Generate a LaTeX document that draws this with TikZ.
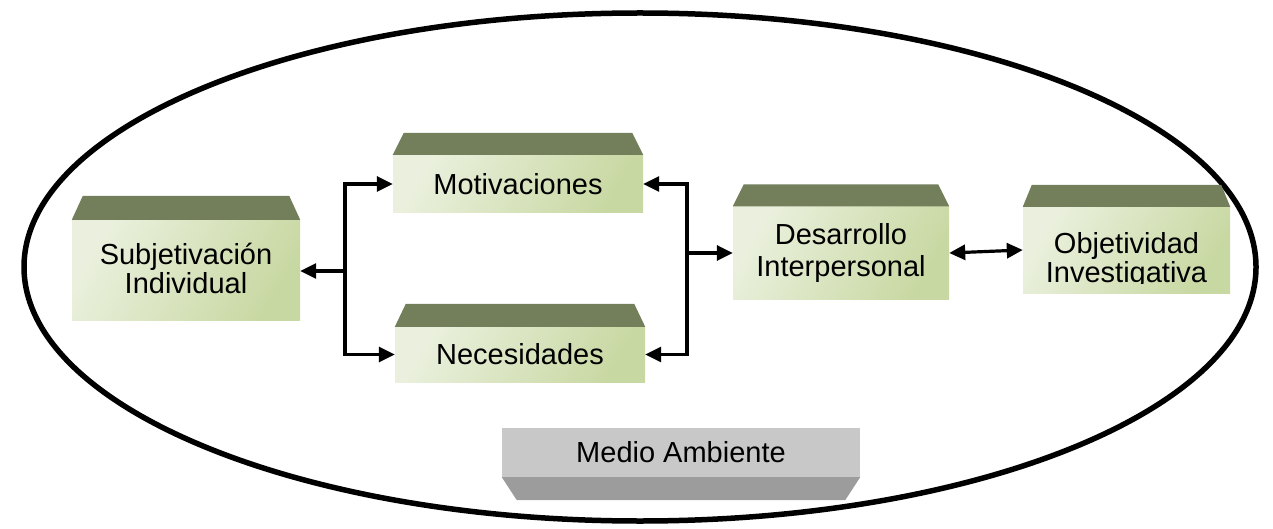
\documentclass[tikz,border=0pt]{standalone}
\usepackage{fontspec}
\setmainfont{Liberation Sans}
\usetikzlibrary{arrows.meta,calc}
\definecolor{topgreen}{HTML}{737E5B}
\definecolor{lightg}{HTML}{EAF0DD}
\definecolor{darkg}{HTML}{C8D8A2}
\definecolor{facegray}{HTML}{C8C8C8}
\definecolor{trapgray}{HTML}{9C9C9C}
\tikzset{
  face/.style={inner sep=0pt, align=center, font=\fontsize{29}{32}\selectfont,
    left color=lightg, right color=darkg, shading angle=60},
  grayface/.style={inner sep=0pt, align=center, font=\fontsize{29}{32}\selectfont,
    fill=facegray},
  conn/.style={line width=3.2pt, -{Triangle[length=16pt,width=15pt]}},
  dconn/.style={line width=3.2pt, {Triangle[length=16pt,width=15pt]}-{Triangle[length=16pt,width=15pt]}},
}
\newcommand{\roofgreen}[3]{% node, inset, height
  \fill[topgreen] (#1.north west) -- ($(#1.north west)+(#2,-#3)$) -- ($(#1.north east)+(-#2,-#3)$) -- (#1.north east) -- cycle;}
\begin{document}
\begin{tikzpicture}[x=1pt,y=-1pt]
\useasboundingbox (0,0) rectangle (1273,529);
% environment ellipse
\draw[line width=5.5pt] (640,267) ellipse [x radius=616, y radius=254];
% boxes
\node[face, minimum width=228pt, minimum height=100pt, text depth=4pt, font=\fontsize{29}{29}\selectfont] (subj) at (186,270) {Subjetivación\\Individual};
\roofgreen{subj}{11}{24}
\node[face, minimum width=250pt, minimum height=58pt] (motiv) at (518,184) {Motivaciones};
\roofgreen{motiv}{11}{22}
\node[face, minimum width=250pt, minimum height=55pt] (neces) at (520,354.5) {Necesidades};
\roofgreen{neces}{11}{23}
\node[face, minimum width=216pt, minimum height=93pt] (desa) at (841,253) {Desarrollo\\Interpersonal};
\roofgreen{desa}{11}{22}
\node[face, minimum width=207pt, minimum height=86pt] (obj) at (1126.5,250) {};
\roofgreen{obj}{9}{22}
\begin{scope}
  \clip (obj.north west) rectangle (obj.east |- 0,283);
  \node[align=center, font=\fontsize{29}{29}\selectfont] (objtext) at (1126.5,261) {Objetividad\\Investigativa};
\end{scope}
\node[grayface, minimum width=358pt, minimum height=49pt] (medio) at (681,452.5) {Medio Ambiente};
\fill[trapgray] (medio.south west) -- ($(medio.south west)+(15,23)$) -- ($(medio.south east)+(-15,23)$) -- (medio.south east) -- cycle;
% connectors
\coordinate (jl) at (345,271);
\coordinate (jr) at (687,253);
\draw[conn] (jl) -- (subj.east |- jl);
\draw[conn] (jl) |- (motiv.west);
\draw[conn] (jl) |- (neces.west);
\draw[conn] (jr) |- (motiv.east);
\draw[conn] (jr) |- (neces.east);
\draw[conn] (jr) -- (desa.west |- jr);
\draw[dconn] (desa.east) -- (obj.west);
\end{tikzpicture}
\end{document}
